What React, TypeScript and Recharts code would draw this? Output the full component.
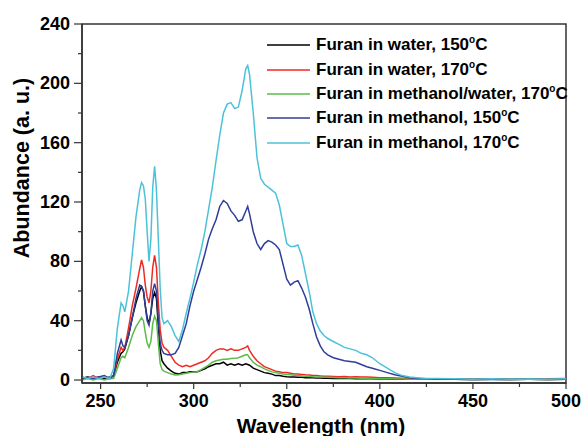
import { Line, LineChart, ReferenceArea, XAxis, YAxis } from "recharts";

const wavelength = [
  240, 243, 246, 249, 252, 255, 257, 259, 261, 262,
  263, 265, 267, 269, 271, 272, 273, 274, 275, 276,
  277, 278, 279, 280, 281, 282, 283, 284, 286, 288,
  290, 292, 294, 296, 298, 300, 302, 304, 306, 308,
  310, 312, 314, 316, 318, 320, 322, 324, 326, 328,
  329, 330, 332, 334, 336, 338, 340, 342, 344, 346,
  348, 350, 352, 354, 356, 358, 360, 362, 364, 366,
  368, 370, 372, 375, 378, 381, 384, 387, 390, 393,
  396, 400, 404, 408, 412, 416, 420, 425, 430, 440,
  450, 460, 470, 480, 490, 500,
];

const water150 = [
  1, 2, 1, 2, 1, 2, 3, 12, 18, 19,
  21, 30, 42, 52, 60, 63, 60, 50, 42, 38,
  45, 55, 59, 55, 36, 20, 13, 11, 8, 6,
  4.5, 4, 5, 5, 5.5, 5.5, 5.6, 6.5, 7.5, 9,
  10, 11, 11, 12, 10, 11, 10, 11, 10, 11,
  10.5, 10, 8, 7, 6, 5, 4.5, 4, 3, 3,
  2.5, 2.2, 2, 2, 1.8, 1.8, 1.6, 1.5, 1.5, 1.4,
  1.3, 1.2, 1.2, 1.1, 1, 1, 1, 0.9, 0.9, 0.8,
  0.8, 0.7, 0.7, 0.6, 0.6, 0.6, 0.5, 0.5, 0.5, 0.5,
  0.4, 0.5, 0.4, 0.5, 0.4, 0.5,
];

const water170 = [
  2, 1, 3, 1, 2, 1, 3, 14, 22, 20,
  22, 35, 50, 62, 75, 81, 76, 64, 56, 52,
  60, 76, 84, 76, 52, 34, 25, 22, 20, 16,
  12, 10, 9, 10, 9, 10, 11, 12, 13, 15,
  18, 20, 21, 21, 20, 21, 20, 20, 21, 22,
  23, 20, 16, 13, 11, 9, 8, 7, 6, 5.6,
  5, 5, 4.5, 4, 4, 3.8, 3.5, 3.4, 3, 3,
  2.8, 2.6, 2.5, 2.4, 2.2, 2.3, 2, 2.2, 2, 2,
  1.8, 1.6, 1.5, 1.3, 1.2, 1, 1, 0.9, 0.8, 0.6,
  0.5, 0.8, 0.6, 0.7, 0.8, 1,
];

const methanolWater170 = [
  0, 1, 0, 1, 0, 1, 1, 8, 15, 16,
  15, 22, 30, 36, 40, 42, 40, 32, 25, 22,
  26, 38, 43, 40, 25, 11, 7, 6, 5, 4,
  3.4, 3.5, 4, 4.5, 5, 5.5, 5.6, 7, 8.5, 10,
  12, 13, 13.5, 14, 14, 14.5, 14.6, 15, 16, 17,
  17, 15, 12, 10, 9, 7.5, 6.5, 5.5, 5, 4.5,
  4, 3.8, 3.5, 3.3, 3, 2.8, 2.6, 2.4, 2.2, 2.1,
  2, 1.9, 1.8, 1.7, 1.6, 1.5, 1.4, 1.3, 1.2, 1.1,
  1, 0.9, 0.8, 0.7, 0.7, 0.6, 0.6, 0.5, 0.5, 0.5,
  0.4, 0.5, 0.4, 0.5, 0.4, 0.5,
];

const methanol150 = [
  1, 2, 1, 2, 3, 1, 3, 18, 27, 23,
  22, 30, 42, 55, 64, 63, 60, 50, 40, 37,
  45, 60, 65, 60, 40, 25, 20, 18, 17, 17,
  18, 22, 30, 38, 50, 60, 68, 76, 85, 95,
  102, 108, 117, 121, 119, 114, 111, 107, 108, 114,
  117, 112, 100, 92, 88, 92, 94, 93, 91, 88,
  78, 68, 64, 66, 67, 62, 56, 48, 38, 29,
  23, 19, 17, 15, 14, 13, 12.5, 12, 10.5, 9,
  8, 6.5, 5, 3.5, 2.5, 1.5, 1, 0.8, 0.6, 0.5,
  0.4, 0.6, 0.4, 0.5, 0.4, 0.5,
];

const methanol170 = [
  2, 1, 2, 1, 2, 1, 8, 35, 52, 50,
  46, 60, 85, 110, 128, 133, 131, 122, 100, 80,
  95, 130, 144, 128, 95, 62, 42, 38, 40, 36,
  30, 26, 34, 45, 55, 66, 78, 88, 100, 115,
  130, 148, 165, 180, 186, 187, 183, 184, 195, 210,
  212, 206, 180, 150, 136, 132, 130, 128, 126, 118,
  105, 92, 90, 90, 91, 84, 72, 60, 46, 38,
  33, 30, 28, 26, 24, 22, 21, 20, 18, 17,
  15, 11, 8, 5, 3, 2, 1.5, 1, 1, 0.8,
  0.5, 0.8, 0.5, 0.7, 0.5, 0.8,
];

const xTicks = [250, 275, 300, 325, 350, 375, 400, 425, 450, 475, 500];
const yTicks = [0, 20, 40, 60, 80, 100, 120, 140, 160, 180, 200, 220, 240];

const series = [
  { key: "water150", label: "Furan in water, 150", color: "#000000" },
  { key: "water170", label: "Furan in water, 170", color: "#ee2a24" },
  { key: "methanolWater170", label: "Furan in methanol/water, 170", color: "#5cbb48" },
  { key: "methanol150", label: "Furan in methanol, 150", color: "#2f3e9a" },
  { key: "methanol170", label: "Furan in methanol, 170", color: "#4cc2d9" },
];

const data = wavelength.map((w, i) => ({
  w,
  water150: water150[i],
  water170: water170[i],
  methanolWater170: methanolWater170[i],
  methanol150: methanol150[i],
  methanol170: methanol170[i],
}));

const font = "'Liberation Sans', Arial, sans-serif";

function XTick(props: any) {
  const { x, y, payload } = props;
  const major = payload.value % 50 === 0;
  return (
    <g>
      <line x1={x} x2={x} y1={y} y2={y + (major ? 6 : 4)} stroke="#333" strokeWidth={1.2} />
      {major && (
        <text x={x} y={y + 24} textAnchor="middle" fontFamily={font} fontWeight="bold" fontSize={18} fill="#000">
          {payload.value}
        </text>
      )}
    </g>
  );
}

function YTick(props: any) {
  const { x, y, payload } = props;
  const major = payload.value % 40 === 0;
  return (
    <g>
      <line x1={x - (major ? 8 : 4)} x2={x} y1={y} y2={y} stroke="#333" strokeWidth={1.2} />
      {major && (
        <text x={x - 12} y={y + 6} textAnchor="end" fontFamily={font} fontWeight="bold" fontSize={18} fill="#000">
          {payload.value}
        </text>
      )}
    </g>
  );
}

export default function App() {
  return (
    <div style={{ position: "absolute", left: 0, top: 0, width: 581, height: 436, background: "#fff", overflow: "hidden" }}>
      <LineChart width={581} height={436} data={data} margin={{ top: 24, right: 15, bottom: 0, left: 0 }}>
        <XAxis
          dataKey="w"
          type="number"
          domain={[240, 500]}
          ticks={xTicks}
          interval={0}
          height={53}
          tickSize={0}
          tickMargin={0}
          tickLine={false}
          tick={<XTick />}
          axisLine={{ stroke: "#333", strokeWidth: 1.5 }}
          allowDataOverflow
        />
        <YAxis
          type="number"
          domain={[-2, 240]}
          ticks={yTicks}
          interval={0}
          width={82}
          tickSize={0}
          tickMargin={0}
          tickLine={false}
          tick={<YTick />}
          axisLine={{ stroke: "#333", strokeWidth: 1.5 }}
          allowDataOverflow
        />
        <ReferenceArea x1={240} x2={500} y1={-2} y2={240} fill="none" stroke="#333" strokeWidth={1.5} />
        {series.map((s) => (
          <Line
            key={s.key}
            dataKey={s.key}
            stroke={s.color}
            strokeWidth={1.5}
            dot={false}
            type="linear"
            isAnimationActive={false}
          />
        ))}
      </LineChart>
      <div
        style={{
          position: "absolute",
          left: 264,
          top: 33,
          fontFamily: font,
          fontWeight: "bold",
          fontSize: 17,
          color: "#000",
        }}
      >
        {series.map((s) => (
          <div key={s.key} style={{ height: 24.4, display: "flex", alignItems: "center", whiteSpace: "nowrap" }}>
            <svg width={50} height={4} style={{ marginRight: 2 }}>
              <line x1={3} x2={46} y1={2} y2={2} stroke={s.color} strokeWidth={1.5} />
            </svg>
            <span>
              {s.label}
              <sup style={{ fontSize: 10, verticalAlign: 7, lineHeight: 0 }}>o</sup>C
            </span>
          </div>
        ))}
      </div>
      <div
        style={{
          position: "absolute",
          left: 22,
          top: 168,
          transform: "translate(-50%, -50%) rotate(-90deg)",
          fontFamily: font,
          fontWeight: "bold",
          fontSize: 21.5,
          whiteSpace: "nowrap",
        }}
      >
        Abundance (a. u.)
      </div>
      <div
        style={{
          position: "absolute",
          left: 321,
          top: 414,
          transform: "translateX(-50%)",
          fontFamily: font,
          fontWeight: "bold",
          fontSize: 21,
          lineHeight: "24px",
          whiteSpace: "nowrap",
        }}
      >
        Wavelength (nm)
      </div>
    </div>
  );
}
